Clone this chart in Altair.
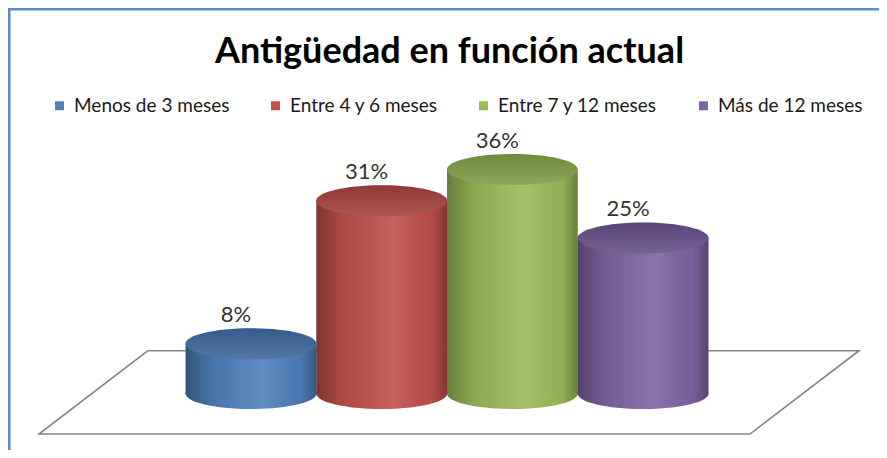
import altair as alt
import pandas as pd

# ---- data -------------------------------------------------------------
categories = ["Menos de 3 meses", "Entre 4 y 6 meses", "Entre 7 y 12 meses", "Más de 12 meses"]
values = [8, 31, 36, 25]
title_text = "Antigüedad en función actual"

# ---- style ------------------------------------------------------------
palette = ["#4F81BD", "#C0504D", "#9BBB59", "#8064A2"]
top_palette = ["#3C669C", "#A23F3C", "#7F9C45", "#654D87"]
FONT = "Lato"

df = pd.DataFrame({"cat": categories, "idx": list(range(len(categories))), "value": values})
df["x0"] = df["idx"] - 0.5
df["x1"] = df["idx"] + 0.5
df["zero"] = 0
df["label"] = df["value"].astype(str) + "%"

W, H = 871, 442
xs = alt.Scale(domain=[-1.859, 4.805], nice=False, zero=False)
ys = alt.Scale(domain=[-9.08, 61.98], nice=False, zero=False)

# ellipse symbol (width 2, height ~0.47 in symbol units)
ry = 0.2366
k = 0.5523
ELL = (f"M -1 0 C -1 {-k*ry:.4f} {-k:.4f} {-ry} 0 {-ry} C {k:.4f} {-ry} 1 {-k*ry:.4f} 1 0 "
       f"C 1 {k*ry:.4f} {k:.4f} {ry} 0 {ry} C {-k:.4f} {ry} -1 {k*ry:.4f} -1 0 Z")
ELL_SIZE = 131 * 131

legend = alt.Legend(
    title=None, orient="none", legendX=42, legendY=88, direction="horizontal",
    symbolType="square", symbolSize=80, symbolStrokeWidth=0,
    labelFont=FONT, labelFontSize=19, labelColor="#1a1a1a",
    columnPadding=36, labelOffset=5, padding=0,
)
color = alt.Color("cat:N", scale=alt.Scale(domain=categories, range=palette), legend=legend)

X = alt.X("idx:Q", scale=xs, axis=None)
Y0 = alt.Y("zero:Q", scale=ys, axis=None)

side_grad = alt.LinearGradient(
    gradient="linear", x1=0, x2=1, y1=0, y2=0,
    stops=[
        alt.GradientStop(offset=0, color="rgba(0,0,0,0.34)"),
        alt.GradientStop(offset=0.2, color="rgba(0,0,0,0.10)"),
        alt.GradientStop(offset=0.6, color="rgba(255,255,255,0.10)"),
        alt.GradientStop(offset=0.88, color="rgba(0,0,0,0.06)"),
        alt.GradientStop(offset=1, color="rgba(0,0,0,0.32)"),
    ],
)
top_grad = alt.LinearGradient(
    gradient="linear", x1=0, x2=0, y1=0, y2=1,
    stops=[
        alt.GradientStop(offset=0, color="rgba(0,0,0,0.10)"),
        alt.GradientStop(offset=1, color="rgba(255,255,255,0.12)"),
    ],
)

base = alt.Chart(df)

# floor (in data units)
floor = pd.DataFrame({
    "fx": [-0.788, 4.652, 3.818, -1.622, -0.788],
    "fy": [6.88, 6.88, -6.51, -6.51, 6.88],
    "o": [0, 1, 2, 3, 4],
})
floor_layer = alt.Chart(floor).mark_line(color="#858585", strokeWidth=1.6).encode(
    x=alt.X("fx:Q", scale=xs, axis=None), y=alt.Y("fy:Q", scale=ys, axis=None), order="o:Q"
)

bottom = base.mark_point(shape=ELL, size=ELL_SIZE, filled=True, opacity=1, strokeWidth=0).encode(
    x=X, y=Y0, color=color
)
bottom_shade = base.mark_point(shape=ELL, size=ELL_SIZE, filled=True, opacity=1, strokeWidth=0,
                               fill=side_grad).encode(x=X, y=Y0)
body = base.mark_rect(strokeWidth=0).encode(
    x=alt.X("x0:Q", scale=xs, axis=None), x2="x1:Q",
    y=alt.Y("value:Q", scale=ys, axis=None), y2="zero:Q", color=color,
)
body_shade = base.mark_rect(strokeWidth=0, fill=side_grad).encode(
    x=alt.X("x0:Q", scale=xs, axis=None), x2="x1:Q",
    y=alt.Y("value:Q", scale=ys, axis=None), y2="zero:Q",
)
top = base.mark_point(shape=ELL, size=ELL_SIZE, filled=True, opacity=1, strokeWidth=0).encode(
    x=X, y=alt.Y("value:Q", scale=ys, axis=None),
    fill=alt.Fill("cat:N", scale=alt.Scale(domain=categories, range=top_palette), legend=None),
)
top_shade = base.mark_point(shape=ELL, size=ELL_SIZE, filled=True, opacity=1, strokeWidth=0,
                            fill=top_grad).encode(x=X, y=alt.Y("value:Q", scale=ys, axis=None))
labels = base.mark_text(font=FONT, fontSize=22, color="#333333", dx=-15, dy=-29,
                        baseline="middle").encode(
    x=X, y=alt.Y("value:Q", scale=ys, axis=None), text="label:N"
)

one = alt.Data(values=[{"a": 1}])
title = alt.Chart(one).mark_text(font=FONT, fontSize=36, fontWeight="bold", color="#000000",
                                 baseline="alphabetic", align="center").encode(
    x=alt.value(W / 2 + 6), y=alt.value(55), text=alt.value(title_text)
)
border_top = alt.Chart(one).mark_rule(color="#5B8BCB", strokeWidth=2.5).encode(
    x=alt.value(0), x2=alt.value(W), y=alt.value(1.25)
)
border_left = alt.Chart(one).mark_rule(color="#5B8BCB", strokeWidth=2.5).encode(
    x=alt.value(1.25), y=alt.value(0), y2=alt.value(H)
)

chart = alt.layer(
    floor_layer, bottom, bottom_shade, body, body_shade, top, top_shade, labels,
    title, border_top, border_left,
).properties(
    width=W, height=H, autosize=alt.AutoSizeParams(type="none"), padding=0,
).configure_view(stroke=None).configure(background="white")

chart.save("out.html", embed_options={"renderer": "svg", "actions": False})
